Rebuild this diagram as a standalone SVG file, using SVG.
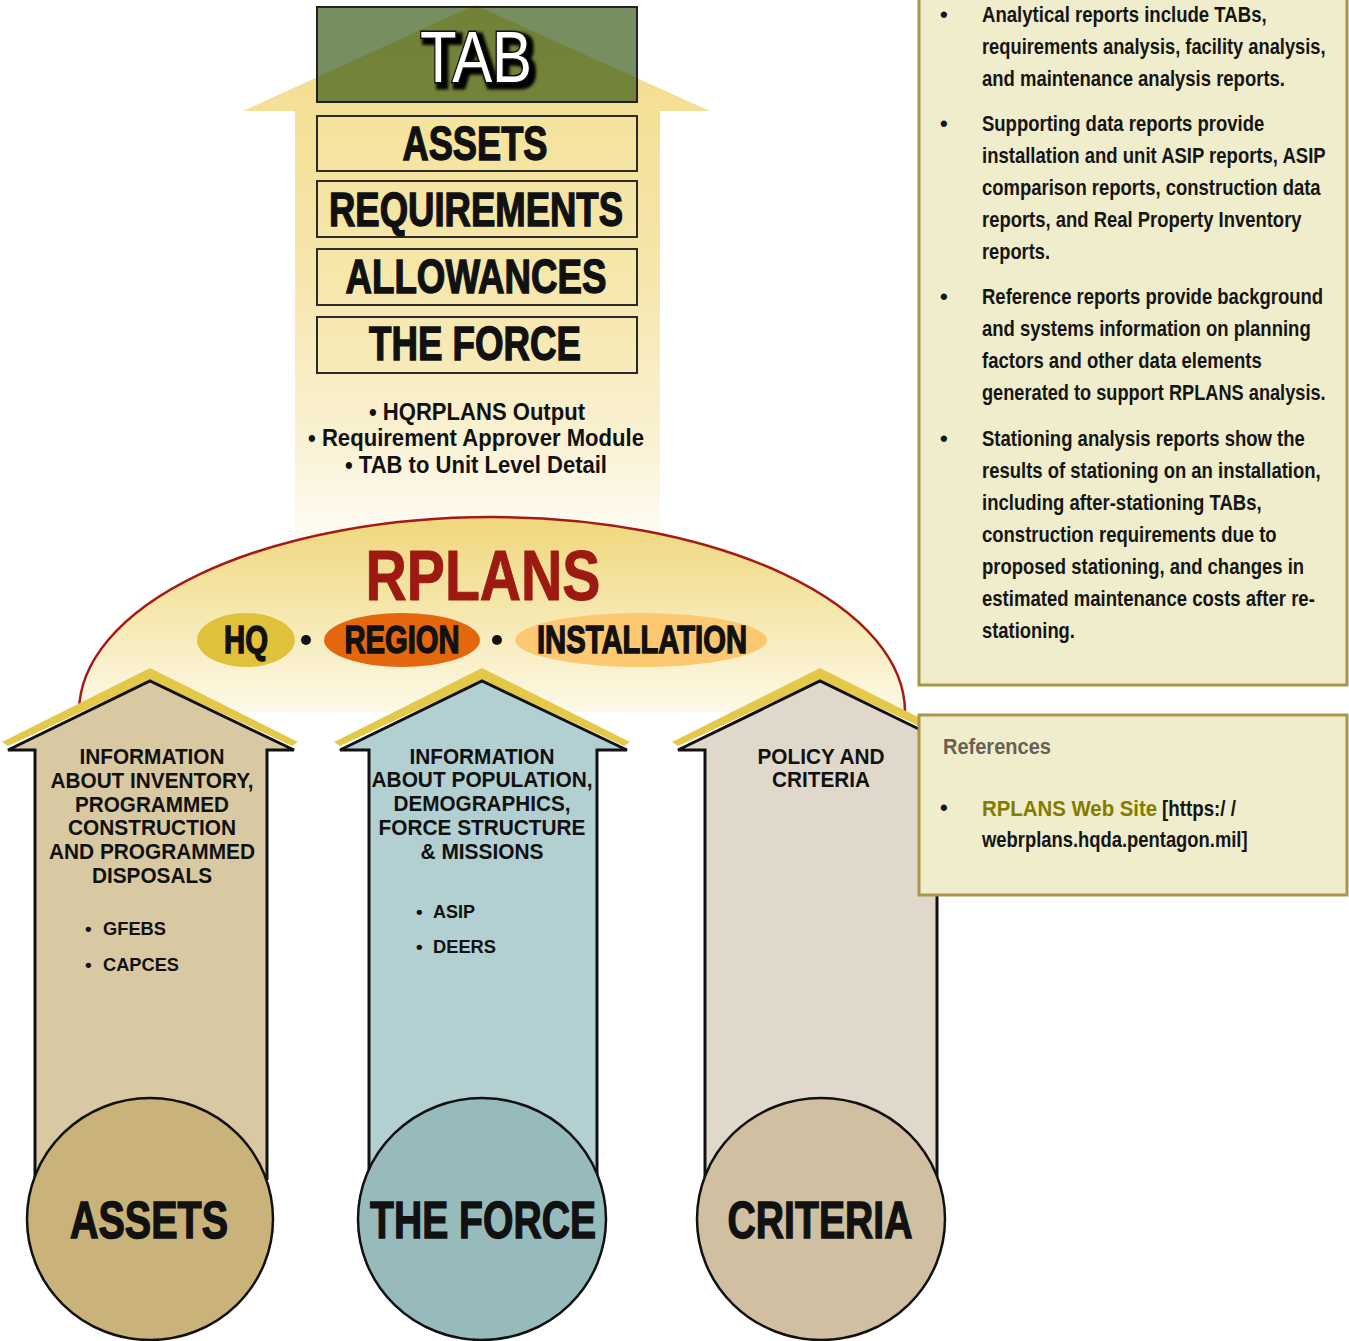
<svg xmlns="http://www.w3.org/2000/svg" width="1349" height="1341" viewBox="0 0 1349 1341">
  <defs>
    <linearGradient id="upGrad" gradientUnits="userSpaceOnUse" x1="0" y1="0" x2="0" y2="545">
      <stop offset="0" stop-color="#f2dc88"/>
      <stop offset="0.5" stop-color="#f6e6ac"/>
      <stop offset="0.8" stop-color="#faf1d2"/>
      <stop offset="1" stop-color="#fffdf7"/>
    </linearGradient>
    <linearGradient id="domeGrad" gradientUnits="userSpaceOnUse" x1="0" y1="517" x2="0" y2="735">
      <stop offset="0" stop-color="#f0d77c"/>
      <stop offset="0.4" stop-color="#f5e6a9"/>
      <stop offset="1" stop-color="#fffdf6"/>
    </linearGradient>
    <!-- dark drop shadow behind the outlined TAB lettering -->
    <filter id="tabShadow" x="-20%" y="-20%" width="150%" height="150%">
      <feMorphology in="SourceAlpha" operator="dilate" radius="2" result="fat"/>
      <feOffset in="fat" dx="4" dy="4" result="off"/>
      <feGaussianBlur in="off" stdDeviation="1.5" result="blur"/>
      <feMerge>
        <feMergeNode in="blur"/>
        <feMergeNode in="SourceGraphic"/>
      </feMerge>
    </filter>
  </defs>
  <style>
    .lbl { font-family: 'Liberation Sans', Arial, sans-serif; font-weight: bold; fill: #111; text-anchor: middle; }
    .heavy { stroke: #111; stroke-width: 1.4; }
    .lbs { font-family: 'Liberation Sans', Arial, sans-serif; font-weight: bold; fill: #111; font-size: 19px; }
    .box { fill: #f6e7a8; fill-opacity: 0.35; stroke: #2b2b2b; stroke-width: 2; }
    .house { stroke: #111; stroke-width: 3; stroke-linejoin: miter; }
    .rim { fill: #e4c84a; }
    .disc { stroke: #111; stroke-width: 2.5; }
    .rp { font-family: 'Liberation Sans', Arial, sans-serif; font-weight: bold; font-size: 22px; fill: #151515; }
    .panel { fill: #efedcb; stroke: #a8974a; stroke-width: 3; }
  </style>

  <!-- Upward output arrow with TAB stack -->
  <g id="output-arrow">
    <path d="M475,5 L710,111 L660,111 L660,545 L295,545 L295,111 L243,111 Z" fill="url(#upGrad)"/>
  </g>

  <g id="tab">
    <rect x="317" y="7" width="320" height="95" fill="#2a4e08" fill-opacity="0.64" stroke="#222" stroke-width="2"/>
    <text x="476" y="82" font-family="'Liberation Sans', Arial, sans-serif" font-size="72" text-anchor="middle" textLength="112" lengthAdjust="spacingAndGlyphs" fill="#fff" stroke="#111" stroke-width="3" paint-order="stroke" filter="url(#tabShadow)">TAB</text>
  </g>

  <g id="box-assets">
    <rect class="box" x="317" y="116" width="320" height="55"/>
    <text class="lbl heavy" x="475" y="160" font-size="48" textLength="145" lengthAdjust="spacingAndGlyphs">ASSETS</text>
  </g>
  <g id="box-requirements">
    <rect class="box" x="317" y="181" width="320" height="56"/>
    <text class="lbl heavy" x="476" y="226" font-size="48" textLength="294" lengthAdjust="spacingAndGlyphs">REQUIREMENTS</text>
  </g>
  <g id="box-allowances">
    <rect class="box" x="317" y="249" width="320" height="56"/>
    <text class="lbl heavy" x="476" y="293" font-size="48" textLength="261" lengthAdjust="spacingAndGlyphs">ALLOWANCES</text>
  </g>
  <g id="box-force">
    <rect class="box" x="317" y="317" width="320" height="56"/>
    <text class="lbl heavy" x="475" y="360" font-size="48" textLength="212" lengthAdjust="spacingAndGlyphs">THE FORCE</text>
  </g>

  <g id="outputs">
    <text class="lbl" x="477" y="420" font-size="24" textLength="216" lengthAdjust="spacingAndGlyphs">• HQRPLANS Output</text>
    <text class="lbl" x="476" y="446" font-size="24" textLength="336" lengthAdjust="spacingAndGlyphs">• Requirement Approver Module</text>
    <text class="lbl" x="476" y="473" font-size="24" textLength="262" lengthAdjust="spacingAndGlyphs">• TAB to Unit Level Detail</text>
  </g>

  <!-- RPLANS dome -->
  <g id="rplans">
    <path d="M79,712 A413,195 0 0 1 905,712" fill="url(#domeGrad)" stroke="#a51a14" stroke-width="2.5"/>
    <text x="483" y="600" font-family="'Liberation Sans', Arial, sans-serif" font-weight="bold" font-size="70" fill="#9c1a12" stroke="#9c1a12" stroke-width="1" text-anchor="middle" textLength="235" lengthAdjust="spacingAndGlyphs">RPLANS</text>
  </g>

  <g id="level-hq">
    <ellipse cx="246" cy="640" rx="49" ry="27" fill="#e0c13c"/>
    <text class="lbl heavy" x="246" y="653" font-size="38" textLength="44" lengthAdjust="spacingAndGlyphs">HQ</text>
  </g>
  <g id="level-region">
    <ellipse cx="402" cy="640" rx="78" ry="27" fill="#e4670e"/>
    <text class="lbl heavy" x="402" y="653" font-size="38" textLength="115" lengthAdjust="spacingAndGlyphs">REGION</text>
  </g>
  <g id="level-installation">
    <ellipse cx="641" cy="640" rx="126" ry="27" fill="#fdc872"/>
    <text class="lbl heavy" x="642" y="653" font-size="38" textLength="210" lengthAdjust="spacingAndGlyphs">INSTALLATION</text>
  </g>
  <g id="separators">
    <circle cx="306" cy="640" r="5" fill="#111"/>
    <circle cx="497" cy="640" r="5" fill="#111"/>
  </g>

  <!-- Input arrows -->
  <g id="input-assets">
    <path class="rim" d="M2,742 L150,668 L298,742 L292,746 L150,680 L8,746 Z"/>
    <path class="house" fill="#d8c9a2" d="M35,1180 L35,750 L8,750 L150,681 L294,750 L267,750 L267,1180"/>
    <text class="lbl" font-size="22" x="152" y="764" textLength="145" lengthAdjust="spacingAndGlyphs">INFORMATION</text>
    <text class="lbl" font-size="22" x="152" y="788" textLength="203" lengthAdjust="spacingAndGlyphs">ABOUT INVENTORY,</text>
    <text class="lbl" font-size="22" x="152" y="812" textLength="154" lengthAdjust="spacingAndGlyphs">PROGRAMMED</text>
    <text class="lbl" font-size="22" x="152" y="835" textLength="168" lengthAdjust="spacingAndGlyphs">CONSTRUCTION</text>
    <text class="lbl" font-size="22" x="152" y="859" textLength="206" lengthAdjust="spacingAndGlyphs">AND PROGRAMMED</text>
    <text class="lbl" font-size="22" x="152" y="883" textLength="120" lengthAdjust="spacingAndGlyphs">DISPOSALS</text>
    <text class="lbs" x="85" y="935">•</text>
    <text class="lbs" x="103" y="935" textLength="63" lengthAdjust="spacingAndGlyphs">GFEBS</text>
    <text class="lbs" x="85" y="971">•</text>
    <text class="lbs" x="103" y="971" textLength="76" lengthAdjust="spacingAndGlyphs">CAPCES</text>
    <ellipse class="disc" cx="150" cy="1219" rx="123" ry="121" fill="#c9b37b"/>
    <text class="lbl heavy" x="149" y="1238" font-size="52" textLength="158" lengthAdjust="spacingAndGlyphs">ASSETS</text>
  </g>

  <g id="input-force">
    <path class="rim" d="M334,742 L482,668 L630,742 L624,746 L482,680 L340,746 Z"/>
    <path class="house" fill="#b2cfd1" d="M369,1180 L369,750 L340,750 L482,681 L627,750 L597,750 L597,1180"/>
    <text class="lbl" font-size="22" x="482" y="764" textLength="145" lengthAdjust="spacingAndGlyphs">INFORMATION</text>
    <text class="lbl" font-size="22" x="482" y="787" textLength="221" lengthAdjust="spacingAndGlyphs">ABOUT POPULATION,</text>
    <text class="lbl" font-size="22" x="482" y="811" textLength="177" lengthAdjust="spacingAndGlyphs">DEMOGRAPHICS,</text>
    <text class="lbl" font-size="22" x="482" y="835" textLength="207" lengthAdjust="spacingAndGlyphs">FORCE STRUCTURE</text>
    <text class="lbl" font-size="22" x="482" y="859" textLength="123" lengthAdjust="spacingAndGlyphs">&amp; MISSIONS</text>
    <text class="lbs" x="416" y="918">•</text>
    <text class="lbs" x="433" y="918" textLength="42" lengthAdjust="spacingAndGlyphs">ASIP</text>
    <text class="lbs" x="416" y="953">•</text>
    <text class="lbs" x="433" y="953" textLength="63" lengthAdjust="spacingAndGlyphs">DEERS</text>
    <ellipse class="disc" cx="482" cy="1219" rx="124" ry="121" fill="#97bbbd"/>
    <text class="lbl heavy" x="483" y="1238" font-size="52" textLength="226" lengthAdjust="spacingAndGlyphs">THE FORCE</text>
  </g>

  <g id="input-criteria">
    <path class="rim" d="M672,742 L820,668 L968,742 L962,746 L820,680 L678,746 Z"/>
    <path class="house" fill="#e0d8ca" d="M705,1180 L705,750 L678,750 L820,681 L962,750 L937,750 L937,1180"/>
    <text class="lbl" font-size="22" x="821" y="764" textLength="127" lengthAdjust="spacingAndGlyphs">POLICY AND</text>
    <text class="lbl" font-size="22" x="821" y="787" textLength="98" lengthAdjust="spacingAndGlyphs">CRITERIA</text>
    <ellipse class="disc" cx="821" cy="1219" rx="124" ry="121" fill="#d1bfa1"/>
    <text class="lbl heavy" x="820" y="1238" font-size="52" textLength="185" lengthAdjust="spacingAndGlyphs">CRITERIA</text>
  </g>

  <!-- Report descriptions (condensed by a horizontal scale) -->
  <g id="reports-panel">
    <rect class="panel" x="919" y="-6" width="428" height="691"/>
    <g class="rp">
      <text x="940" y="22">•</text>
      <text x="940" y="131">•</text>
      <text x="940" y="304">•</text>
      <text x="940" y="446">•</text>
    </g>
    <g class="rp" transform="translate(982,0) scale(0.83,1)">
      <text x="0" y="22" textLength="343" lengthAdjust="spacingAndGlyphs">Analytical reports include TABs,</text>
      <text x="0" y="54" textLength="414" lengthAdjust="spacingAndGlyphs">requirements analysis, facility analysis,</text>
      <text x="0" y="86" textLength="365" lengthAdjust="spacingAndGlyphs">and maintenance analysis reports.</text>
      <text x="0" y="131" textLength="340" lengthAdjust="spacingAndGlyphs">Supporting data reports provide</text>
      <text x="0" y="163" textLength="414" lengthAdjust="spacingAndGlyphs">installation and unit ASIP reports, ASIP</text>
      <text x="0" y="195" textLength="408" lengthAdjust="spacingAndGlyphs">comparison reports, construction data</text>
      <text x="0" y="227" textLength="385" lengthAdjust="spacingAndGlyphs">reports, and Real Property Inventory</text>
      <text x="0" y="259" textLength="82" lengthAdjust="spacingAndGlyphs">reports.</text>
      <text x="0" y="304" textLength="411" lengthAdjust="spacingAndGlyphs">Reference reports provide background</text>
      <text x="0" y="336" textLength="396" lengthAdjust="spacingAndGlyphs">and systems information on planning</text>
      <text x="0" y="368" textLength="337" lengthAdjust="spacingAndGlyphs">factors and other data elements</text>
      <text x="0" y="400" textLength="414" lengthAdjust="spacingAndGlyphs">generated to support RPLANS analysis.</text>
      <text x="0" y="446" textLength="389" lengthAdjust="spacingAndGlyphs">Stationing analysis reports show the</text>
      <text x="0" y="478" textLength="408" lengthAdjust="spacingAndGlyphs">results of stationing on an installation,</text>
      <text x="0" y="510" textLength="337" lengthAdjust="spacingAndGlyphs">including after-stationing TABs,</text>
      <text x="0" y="542" textLength="355" lengthAdjust="spacingAndGlyphs">construction requirements due to</text>
      <text x="0" y="574" textLength="388" lengthAdjust="spacingAndGlyphs">proposed stationing, and changes in</text>
      <text x="0" y="606" textLength="401" lengthAdjust="spacingAndGlyphs">estimated maintenance costs after re-</text>
      <text x="0" y="638" textLength="112" lengthAdjust="spacingAndGlyphs">stationing.</text>
    </g>
  </g>

  <g id="references-panel">
    <rect class="panel" x="919" y="715" width="428" height="180"/>
    <g class="rp">
      <text x="940" y="815">•</text>
    </g>
    <g class="rp" transform="translate(982,0) scale(0.83,1)">
      <text x="-47" y="754" fill="#6a5f52" textLength="130" lengthAdjust="spacingAndGlyphs">References</text>
      <text x="0" y="816" fill="#847b00" textLength="211" lengthAdjust="spacingAndGlyphs">RPLANS Web Site</text>
      <text x="217" y="816" textLength="89" lengthAdjust="spacingAndGlyphs">[https:/ /</text>
      <text x="0" y="847" textLength="320" lengthAdjust="spacingAndGlyphs">webrplans.hqda.pentagon.mil]</text>
    </g>
  </g>
</svg>
